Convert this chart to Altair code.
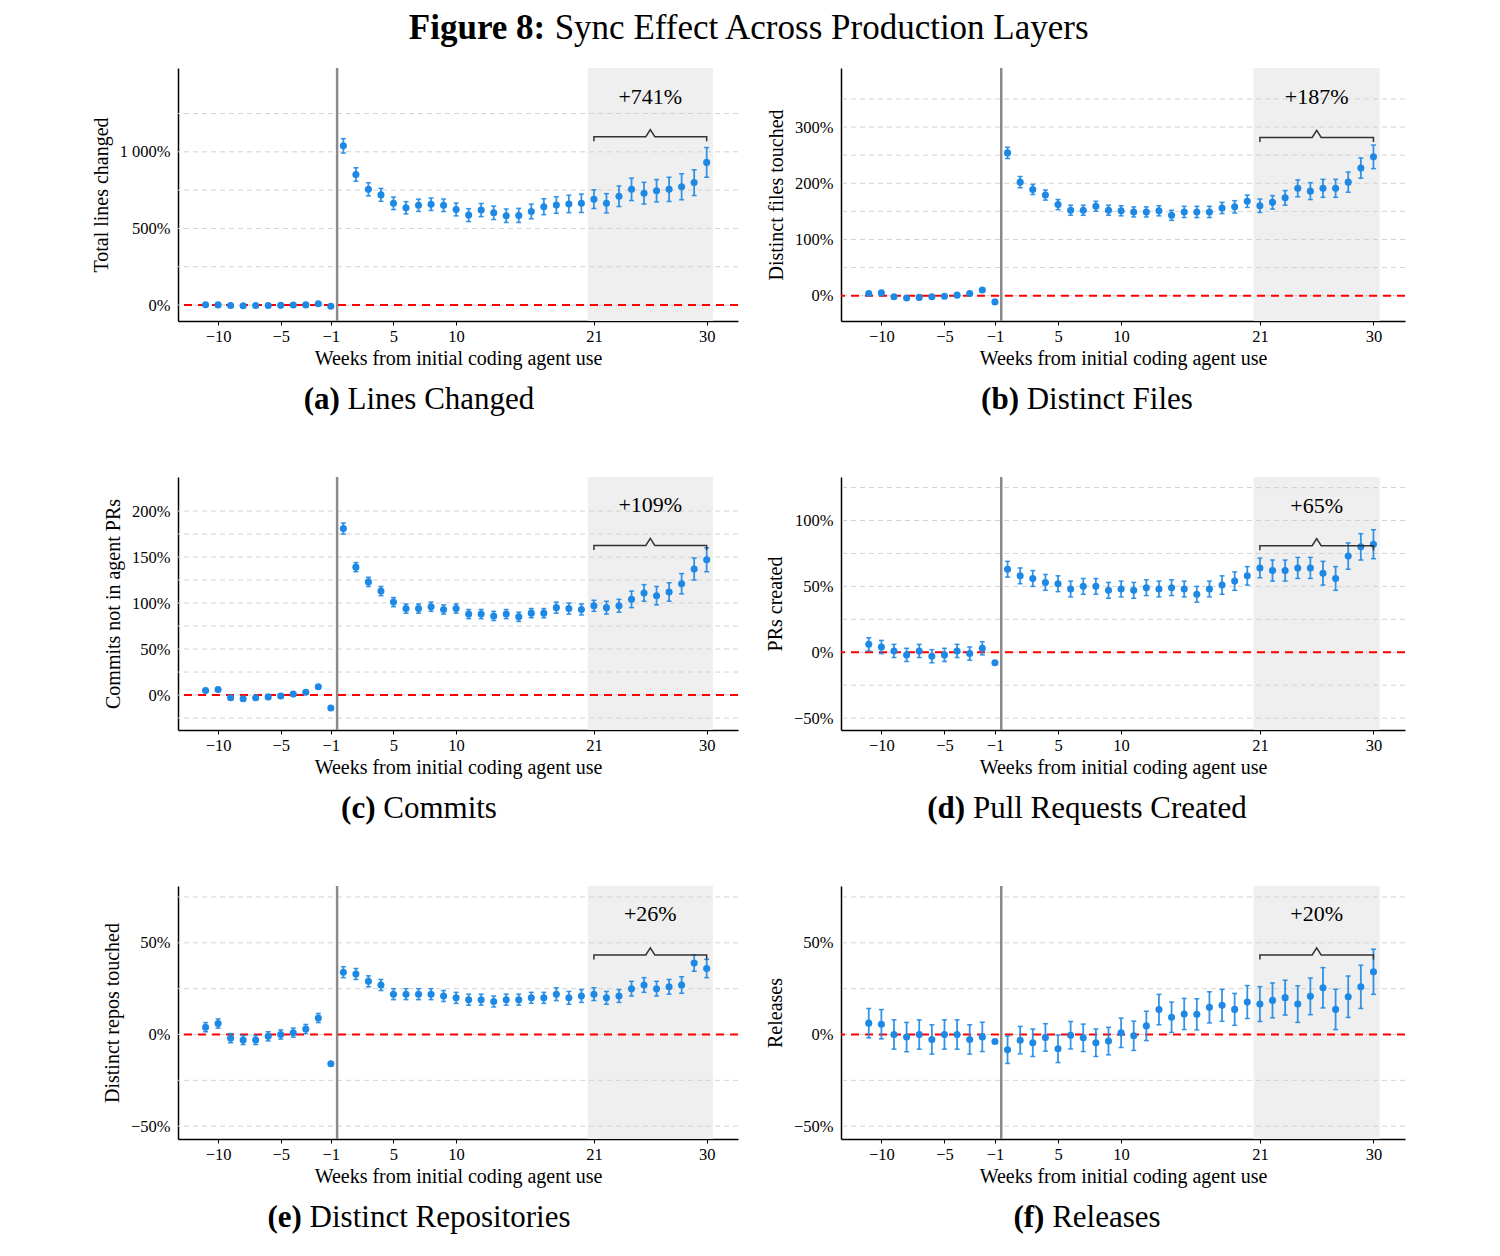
import math
import altair as alt
import pandas as pd

FONT = "Liberation Serif"
BLUE = "#1e88e5"

# ---------------- data ----------------
pre_weeks = list(range(-11, 0))
post_weeks = list(range(1, 31))
tick_weeks = [-10, -5, -1, 5, 10, 21, 30]
window_weeks = [21, 30]

# (a) Lines changed
lines_pre = [2, 1, -3, -4, -3, -3, -2, 0, 1, 8, -8]
lines_post = [1039, 852, 755, 719, 664, 635, 651, 658, 651, 624, 587, 620, 602, 583, 585,
              611, 642, 653, 660, 664, 691, 664, 710, 755, 730, 746, 755, 772, 799, 931]
lines_err_pre = [6, 6, 6, 6, 6, 6, 6, 6, 6, 6, 3]
lines_err_post = [47, 44, 43, 42, 41, 40, 40, 41, 41, 42, 42, 43, 44, 44, 46,
                  48, 52, 54, 57, 60, 61, 63, 67, 73, 71, 73, 79, 85, 84, 97]

# (b) Distinct files
files_pre = [4, 5, -2, -4, -3, -2, -1, 1, 4, 10, -11]
files_post = [254, 202, 189, 179, 162, 152, 152, 159, 152, 151, 149, 149, 151, 143, 149,
              149, 149, 156, 158, 168, 160, 166, 174, 191, 186, 191, 191, 202, 227, 247]
files_err_pre = [2, 2, 2, 2, 2, 2, 2, 2, 2, 2, 1]
files_err_post = [10, 10, 9, 9, 9, 9, 9, 9, 9, 9, 9, 9, 9, 9, 10,
                  10, 10, 10, 11, 11, 12, 12, 13, 15, 15, 16, 16, 18, 18, 21]

# (c) Commits
commits_pre = [5, 6, -3, -4, -3, -2, -1, 1, 3, 9, -14]
commits_post = [181, 139, 123, 113, 101, 94, 94, 96, 93, 94, 88, 88, 86, 88, 85,
                89, 89, 95, 94, 93, 97, 95, 97, 104, 111, 108, 112, 121, 137, 147]
commits_err_pre = [2, 2, 2, 2, 2, 2, 2, 2, 2, 2, 1]
commits_err_post = [6, 5, 5, 5, 5, 5, 5, 5, 5, 5, 5, 5, 5, 5, 5,
                    5, 5, 6, 6, 6, 6, 7, 7, 9, 9, 10, 10, 11, 12, 13]

# (d) Pull requests created
prs_pre = [6, 4, 1, -2, 1, -3, -2, 1, -1, 3, -8]
prs_post = [63, 58, 56, 53, 52, 48, 50, 50, 47, 48, 47, 49, 48, 49, 48,
            44, 48, 51, 54, 58, 64, 62, 62, 64, 64, 60, 56, 73, 80, 82]
prs_err_pre = [5, 5, 5, 5, 5, 5, 5, 5, 5, 5, 1]
prs_err_post = [6, 6, 6, 6, 6, 6, 6, 6, 6, 6, 6, 6, 6, 6, 6,
                6, 6, 7, 7, 7, 7.5, 8, 8, 8, 8, 9, 9, 10, 10, 11]

# (e) Distinct repositories
repos_pre = [4, 6, -2, -3, -3, -1, 0, 1, 3, 9, -16]
repos_post = [34, 33, 29, 27, 22, 22, 22, 22, 21, 20, 19, 19, 18, 19, 19,
              20, 20, 22, 20, 21, 22, 20, 21, 25, 27, 25, 26, 27, 39, 36]
repos_err_pre = [2.5, 2.5, 2.5, 2.5, 2.5, 2.5, 2.5, 2.5, 2.5, 2.5, 0.5]
repos_err_post = [3, 3, 3, 3, 3, 3, 3, 3, 3, 3, 3, 3, 3, 3, 3,
                  3, 3, 3.5, 3.5, 3.5, 3.5, 3.5, 3.5, 4, 4, 4, 4, 4.5, 4.5, 5]

# (f) Releases
rel_pre = [6.2, 5.6, 0, -1.4, 0, -2.7, 0, 0, -2.7, -1.3, -3.8]
rel_post = [-8.3, -3.1, -4.5, -1.6, -7.8, -0.4, -1.8, -4.5, -3.6, 0.9, -0.7, 4.7, 13.6, 9.4, 11.2,
            11.0, 14.8, 15.9, 13.7, 17.7, 16.6, 18.6, 20.1, 16.6, 20.8, 25.5, 13.7, 20.6, 26.0, 34.2]
rel_err_pre = [8, 8, 8, 8, 8, 8, 8, 8, 8, 8, 1]
rel_err_post = [7.5, 7.5, 7.5, 7.5, 7.5, 7.5, 7.5, 7.5, 7.5, 8, 8, 8, 8.3, 8.3, 8.5,
                8.5, 8.5, 8.7, 8.7, 9, 9.5, 9.5, 9.5, 10, 10, 11, 11, 11.3, 11.8, 12.3]

tags = ["(a)", "(b)", "(c)", "(d)", "(e)", "(f)"]
names = ["Lines Changed", "Distinct Files", "Commits", "Pull Requests Created",
         "Distinct Repositories", "Releases"]
y_titles = ["Total lines changed", "Distinct files touched", "Commits not in agent PRs",
            "PRs created", "Distinct repos touched", "Releases"]
effect_labels = ["+741%", "+187%", "+109%", "+65%", "+26%", "+20%"]

title_bold = "Figure 8:"
title_rest = "Sync Effect Across Production Layers"

# ---------------- layout / style ----------------
panels = [
    dict(pre=lines_pre, post=lines_post, epre=lines_err_pre, epost=lines_err_post,
         ydom=[-104, 1547], step=250, grid=[0, 1250], brace=1099, text_y=1359),
    dict(pre=files_pre, post=files_post, epre=files_err_pre, epost=files_err_post,
         ydom=[-45, 405], step=50, grid=[0, 350], brace=281.6, text_y=354),
    dict(pre=commits_pre, post=commits_post, epre=commits_err_pre, epost=commits_err_post,
         ydom=[-38, 237], step=25, grid=[-25, 200], brace=162.6, text_y=207),
    dict(pre=prs_pre, post=prs_post, epre=prs_err_pre, epost=prs_err_post,
         ydom=[-59, 133], step=25, grid=[-50, 125], brace=80.9, text_y=111),
    dict(pre=repos_pre, post=repos_post, epre=repos_err_pre, epost=repos_err_post,
         ydom=[-57, 81], step=25, grid=[-50, 75], brace=43.4, text_y=65.5),
    dict(pre=rel_pre, post=rel_post, epre=rel_err_pre, epost=rel_err_post,
         ydom=[-57, 81], step=25, grid=[-50, 75], brace=43.4, text_y=65.5),
]

X_DOM = [-13.2, 31.5]
WIDTHS = [560, 564]
H = 253
CAP_CX = [241, 246]
CAP_SIZE = 31
TITLE_SIZE = 35
PLOT_LEFT_PAGE = 178

TIMES = {' ': 250, '(': 333, ')': 333, '%': 833, '+': 564, ':': 278,
         'a': 444, 'b': 500, 'c': 444, 'd': 500, 'e': 444, 'f': 333, 'g': 500, 'h': 500,
         'i': 278, 'j': 278, 'k': 500, 'l': 278, 'm': 778, 'n': 500, 'o': 500, 'p': 500,
         'q': 500, 'r': 333, 's': 389, 't': 278, 'u': 500, 'v': 500, 'w': 722, 'x': 500,
         'y': 500, 'z': 444, 'A': 722, 'B': 667, 'C': 667, 'D': 722, 'E': 611, 'F': 556,
         'G': 722, 'L': 611, 'P': 556, 'R': 667, 'S': 556, 'T': 611}
TIMES_BOLD = {' ': 250, '(': 333, ')': 333, ':': 333, 'a': 500, 'b': 556, 'c': 444,
              'd': 556, 'e': 444, 'f': 333, 'g': 500, 'i': 278, 'r': 444, 'u': 556, 'F': 611}


def tw(text, size, bold=False):
    table = TIMES_BOLD if bold else TIMES
    return sum(table.get(ch, 500) for ch in text) / 1000.0 * size


def week_pos(w):
    return w if w < 0 else w - 1


one = pd.DataFrame({"k": [0]})


def make_panel(i):
    p = panels[i]
    col = i % 2
    width = WIDTHS[col]
    lo_d, hi_d = p["ydom"]
    step = p["step"]
    g0, g1 = p["grid"]

    xscale = alt.Scale(domain=X_DOM, nice=False, zero=False)
    yscale = alt.Scale(domain=[lo_d, hi_d], nice=False, zero=False)
    tick_pos = [week_pos(w) for w in tick_weeks]
    xaxis = alt.Axis(
        values=tick_pos,
        labelExpr="datum.value < 0 ? format(datum.value, 'd') : format(datum.value + 1, 'd')",
        title="Weeks from initial coding agent use", grid=False, ticks=True, tickSize=4,
        tickColor="black", tickWidth=1, domainColor="black", domainWidth=1.5,
        labelFont=FONT, labelFontSize=16.5, labelColor="black", labelPadding=3,
        labelFlush=False, labelOverlap=False, titleFont=FONT, titleFontSize=20,
        titleFontWeight="normal", titleColor="black", titlePadding=4)
    grid_vals = [k * step for k in range(g0 // step, g1 // step + 1)]
    label_vals = [v for v in grid_vals if v % (2 * step) == 0]
    yaxis = alt.Axis(
        values=label_vals,
        labelExpr="replace(format(datum.value, ',d'), ',', ' ') + '%'",
        grid=False, ticks=False, domainColor="black", domainWidth=1.5,
        labelFont=FONT, labelFontSize=16.5, labelColor="black", labelPadding=8,
        labelFlush=False, labelOverlap=False, title=y_titles[i], titleFont=FONT,
        titleFontSize=20, titleFontWeight="normal", titleColor="black", titlePadding=8)

    def X(f):
        return alt.X(f, type="quantitative", scale=xscale, axis=xaxis)

    def Y(f):
        return alt.Y(f, type="quantitative", scale=yscale, axis=yaxis)

    weeks = pre_weeks + post_weeks
    df = pd.DataFrame({
        "week": weeks,
        "est": p["pre"] + p["post"],
        "err": p["epre"] + p["epost"],
    })
    df["pos"] = [week_pos(w) for w in weeks]
    df["lo"] = df["est"] - df["err"]
    df["hi"] = df["est"] + df["err"]

    p0, p1 = week_pos(window_weeks[0]), week_pos(window_weeks[1])
    shade_df = pd.DataFrame({"x0": [p0 - 0.5], "x1": [p1 + 0.5]})
    grid_df = pd.DataFrame({"g": grid_vals})
    vline_df = pd.DataFrame({"v": [(week_pos(pre_weeks[-1]) + week_pos(post_weeks[0])) / 2]})
    zero_df = pd.DataFrame({"z": [0]})

    # brace geometry (pixel sizes converted into data units)
    ypx = H / (hi_d - lo_d)
    xpx = width / (X_DOM[1] - X_DOM[0])
    b = p["brace"]
    drop, rise, half = 4.5 / ypx, 7 / ypx, 4.5 / xpx
    mid = (p0 + p1) / 2
    brace_df = pd.DataFrame({
        "bx": [p0, p0, mid - half, mid, mid + half, p1, p1],
        "by": [b - drop, b, b, b + rise, b, b, b - drop],
        "i": list(range(7)),
    })
    label_df = pd.DataFrame({"lx": [mid], "ly": [p["text_y"]], "label": [effect_labels[i]]})

    shade = alt.Chart(shade_df).mark_rect(color="#efefef").encode(
        x=X("x0"), x2="x1", y=alt.value(0), y2=alt.value(H))
    grid = alt.Chart(grid_df).mark_rule(color="#d2d2d2", strokeDash=[5, 4], strokeWidth=1).encode(
        y=Y("g"))
    vline = alt.Chart(vline_df).mark_rule(color="#8a8a8a", strokeWidth=2.5).encode(x=X("v"))
    zero = alt.Chart(zero_df).mark_rule(color="#ff0000", strokeDash=[8, 6], strokeWidth=2).encode(
        y=Y("z"))
    base = alt.Chart(df)
    ebar = base.mark_rule(color=BLUE, strokeWidth=1.8, opacity=0.9).encode(
        x=X("pos"), y=Y("lo"), y2="hi")
    cap_lo = base.mark_tick(color=BLUE, size=5, thickness=1.5, orient="horizontal", opacity=0.9).encode(
        x=X("pos"), y=Y("lo"))
    cap_hi = base.mark_tick(color=BLUE, size=5, thickness=1.5, orient="horizontal", opacity=0.9).encode(
        x=X("pos"), y=Y("hi"))
    pts = base.mark_circle(color=BLUE, size=50, opacity=1).encode(x=X("pos"), y=Y("est"))
    brace = alt.Chart(brace_df).mark_line(color="#333333", strokeWidth=1.5).encode(
        x=X("bx"), y=Y("by"), order="i:Q")
    label = alt.Chart(label_df).mark_text(font=FONT, fontSize=22, color="black",
                                          baseline="middle", align="center").encode(
        x=X("lx"), y=Y("ly"), text="label:N")

    bw = tw(tags[i], CAP_SIZE, True)
    sw = tw(" ", CAP_SIZE)
    nw = tw(names[i], CAP_SIZE)
    start = CAP_CX[col] - (bw + sw + nw) / 2
    cap_y = H + 88
    cap_b = alt.Chart(one).mark_text(text=tags[i], font=FONT, fontSize=CAP_SIZE, fontWeight="bold",
                                     align="left", baseline="alphabetic", color="black").encode(
        x=alt.value(start), y=alt.value(cap_y))
    cap_n = alt.Chart(one).mark_text(text=names[i], font=FONT, fontSize=CAP_SIZE,
                                     align="left", baseline="alphabetic", color="black").encode(
        x=alt.value(start + bw + sw), y=alt.value(cap_y))

    return alt.layer(shade, grid, vline, zero, ebar, cap_lo, cap_hi, pts, brace, label,
                     cap_b, cap_n).properties(width=width, height=H)


charts = [make_panel(i) for i in range(6)]
grid_chart = alt.concat(*charts, columns=2, spacing={"row": 60, "column": 26})

# ---------------- figure title ----------------
PAD_LEFT = 83
title_cx = 750 - PLOT_LEFT_PAGE
tb = tw(title_bold, TITLE_SIZE, True)
ts = tw(" ", TITLE_SIZE)
tr = tw(title_rest, TITLE_SIZE)
tstart = title_cx - (tb + ts + tr) / 2
TITLE_BASE = 31
title_b = alt.Chart(one).mark_text(text=title_bold, font=FONT, fontSize=TITLE_SIZE, fontWeight="bold",
                                   align="left", baseline="alphabetic", color="black").encode(
    x=alt.value(tstart), y=alt.value(TITLE_BASE))
title_r = alt.Chart(one).mark_text(text=title_rest, font=FONT, fontSize=TITLE_SIZE,
                                   align="left", baseline="alphabetic", color="black").encode(
    x=alt.value(tstart + tb + ts), y=alt.value(TITLE_BASE))
title_chart = alt.layer(title_b, title_r).properties(width=1200, height=38)

chart = alt.vconcat(title_chart, grid_chart, spacing=20).properties(
    padding={"left": PAD_LEFT, "top": 0, "right": 5, "bottom": 5}
).configure(font=FONT).configure_view(stroke=None)

chart.save("out.html", embed_options={"renderer": "svg", "actions": False})
